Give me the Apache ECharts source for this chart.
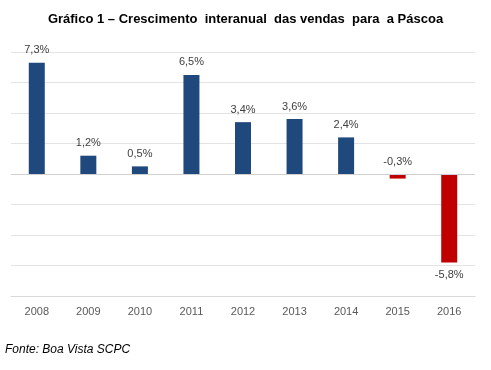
<!DOCTYPE html>
<html><head><meta charset="utf-8">
<script src="https://cdn.jsdelivr.net/npm/echarts@6/dist/echarts.min.js"></script>
<style>html,body{margin:0;padding:0;background:#fff}#c{width:491px;height:370px}</style>
</head><body><div id="c"></div>
<script>
const categories = ['2008','2009','2010','2011','2012','2013','2014','2015','2016'];
const values = [7.3, 1.2, 0.5, 6.5, 3.4, 3.6, 2.4, -0.3, -5.8];
const labelPositions = ['top','top','top','top','top','top','top','top','bottom'];
const titleText = 'Gráfico 1 – Crescimento  interanual  das vendas  para  a Páscoa';
const sourceText = 'Fonte: Boa Vista SCPC';

const chart = echarts.init(document.getElementById('c'), null, {renderer:'canvas'});
chart.setOption({
  animation: false,
  backgroundColor: '#fff',
  title: [{
    text: titleText, left: 'center', top: 8,
    textStyle: {fontFamily: 'Liberation Sans, Arial', fontSize: 13, fontWeight: 'bold', color: '#000'}
  }, {
    text: sourceText, left: 0, top: 339,
    textStyle: {fontFamily: 'Liberation Sans, Arial', fontSize: 12, fontStyle: 'italic', fontWeight: 'normal', color: '#000'}
  }],
  grid: {left: 11, right: 16, top: 52, bottom: 74, containLabel: false},
  xAxis: {
    type: 'category', data: categories, position: 'bottom',
    axisLine: {show: true, onZero: false, lineStyle: {color: '#d9d9d9'}},
    axisTick: {show: false},
    axisLabel: {color: '#595959', fontFamily: 'Liberation Sans, Arial', fontSize: 11, margin: 10}
  },
  yAxis: {
    type: 'value', min: -8, max: 8, interval: 2,
    axisLine: {show: false}, axisTick: {show: false}, axisLabel: {show: false},
    splitLine: {lineStyle: {color: '#e3e3e3', width: 1}}
  },
  series: [{
    type: 'bar', barWidth: 16,
    data: values.map((v, i) => ({
      value: v,
      itemStyle: {color: v < 0 ? '#C00000' : '#1F497D'},
      label: {position: labelPositions[i]}
    })),
    label: {
      show: true, distance: 7, color: '#404040',
      fontFamily: 'Liberation Sans, Arial', fontSize: 11,
      formatter: p => p.value.toFixed(1).replace('.', ',') + '%'
    },
    markLine: {
      silent: true, symbol: 'none', label: {show: false},
      lineStyle: {color: '#d0d0d0', width: 1, type: 'solid'},
      data: [{yAxis: 0}]
    }
  }]
});
</script></body></html>
